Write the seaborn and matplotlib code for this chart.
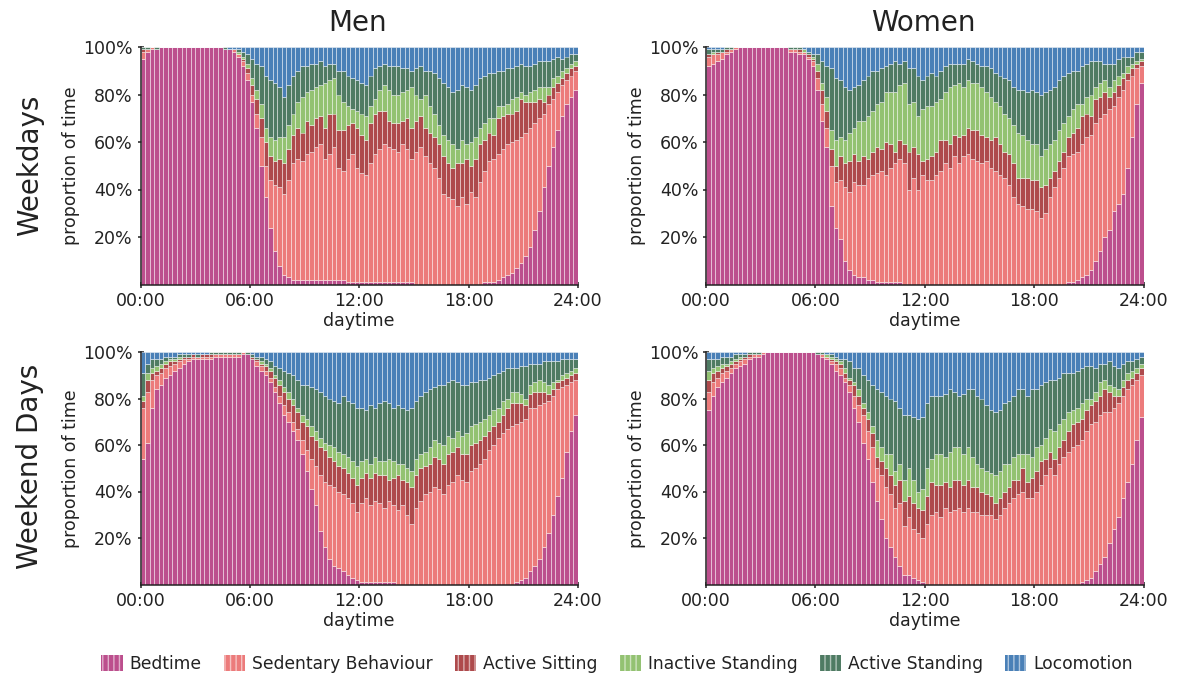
import numpy as np
import pandas as pd
import matplotlib
matplotlib.use("Agg")
import matplotlib.pyplot as plt
from matplotlib.patches import Patch
import seaborn as sns

# Behaviour classes, bottom of the stack first
behaviours = ["Bedtime", "Sedentary Behaviour", "Active Sitting",
              "Inactive Standing", "Active Standing", "Locomotion"]
colours = ["#bc4f8d", "#ec7b7b", "#ae4a4c", "#93c272", "#4f7b63", "#4a80b7"]

x_ticks = [0, 6, 12, 18, 24]
x_tick_labels = ["00:00", "06:00", "12:00", "18:00", "24:00"]
y_ticks = [0.2, 0.4, 0.6, 0.8, 1.0]
y_tick_labels = ["20%", "40%", "60%", "80%", "100%"]

# Share of time (%) spent in each behaviour, one value per 15-minute slot

# Men, weekdays
men_wd_bed = [95, 98, 99, 99, 100, 100, 100, 100, 100, 100, 100, 100,
              100, 100, 100, 100, 100, 100, 99, 99, 98, 96, 92, 86,
              77, 66, 50, 37, 24, 14, 8, 4, 3, 2, 2, 2,
              2, 2, 2, 2, 2, 2, 2, 2, 2, 1, 1, 1,
              1, 1, 1, 1, 1, 1, 1, 1, 1, 1, 1, 1,
              0, 0, 0, 0, 0, 0, 0, 0, 0, 0, 0, 0,
              0, 0, 0, 1, 1, 1, 2, 3, 4, 5, 7, 9,
              12, 16, 23, 31, 41, 50, 58, 65, 71, 76, 79, 82]
men_wd_sed = [3, 1, 1, 0, 0, 0, 0, 0, 0, 0, 0, 0,
              0, 0, 0, 0, 0, 0, 0, 0, 1, 1, 2, 3,
              3, 6, 12, 13, 20, 28, 33, 34, 41, 49, 51, 50,
              53, 54, 56, 57, 51, 53, 56, 47, 46, 52, 54, 48,
              46, 45, 50, 54, 56, 58, 57, 56, 55, 58, 56, 52,
              56, 58, 54, 51, 49, 45, 38, 37, 36, 33, 37, 34,
              39, 37, 43, 47, 51, 52, 53, 54, 55, 55, 54, 53,
              52, 50, 45, 39, 31, 26, 20, 16, 13, 10, 9, 8]
men_wd_asit = [1, 0, 0, 0, 0, 0, 0, 0, 0, 0, 0, 0,
               0, 0, 0, 0, 0, 0, 0, 0, 0, 0, 1, 2,
               4, 6, 8, 10, 10, 10, 12, 13, 13, 12, 13, 12,
               14, 11, 12, 12, 13, 17, 14, 16, 17, 14, 13, 17,
               16, 15, 17, 17, 16, 14, 11, 11, 12, 10, 13, 13,
               13, 13, 12, 13, 13, 14, 16, 14, 13, 18, 14, 19,
               11, 16, 16, 13, 12, 10, 15, 14, 13, 12, 12, 16,
               13, 11, 9, 8, 5, 4, 5, 4, 3, 3, 3, 2]
men_wd_istd = [0, 0, 0, 0, 0, 0, 0, 0, 0, 0, 0, 0,
               0, 0, 0, 0, 0, 0, 0, 0, 0, 1, 1, 2,
               3, 4, 6, 6, 8, 9, 9, 11, 10, 9, 11, 15,
               12, 15, 13, 13, 19, 14, 15, 15, 12, 8, 6, 7,
               9, 10, 7, 6, 9, 11, 13, 12, 12, 12, 12, 17,
               11, 7, 14, 11, 10, 8, 9, 10, 10, 6, 10, 6,
               10, 9, 7, 7, 6, 7, 5, 4, 4, 6, 6, 3,
               3, 4, 5, 5, 6, 3, 4, 3, 3, 2, 2, 2]
men_wd_astd = [1, 1, 0, 1, 0, 0, 0, 0, 0, 0, 0, 0,
               0, 0, 0, 0, 0, 0, 1, 0, 0, 1, 2, 4,
               8, 11, 16, 22, 24, 24, 21, 17, 17, 16, 13, 13,
               11, 11, 10, 10, 7, 7, 6, 10, 13, 13, 13, 13,
               13, 13, 13, 13, 10, 9, 10, 12, 12, 10, 9, 7,
               11, 14, 10, 15, 17, 20, 22, 22, 22, 25, 23, 24,
               22, 22, 21, 20, 19, 19, 15, 15, 15, 13, 13, 12,
               12, 11, 11, 11, 11, 11, 8, 8, 5, 5, 4, 3]
men_wd_loco = [0, 0, 0, 0, 0, 0, 0, 0, 0, 0, 0, 0,
               0, 0, 0, 0, 0, 0, 0, 1, 1, 1, 2, 3,
               5, 7, 8, 12, 14, 15, 17, 21, 16, 12, 10, 8,
               8, 7, 7, 6, 8, 7, 7, 10, 10, 12, 13, 14,
               15, 16, 12, 9, 8, 7, 8, 8, 8, 9, 9, 10,
               9, 8, 10, 10, 11, 13, 15, 17, 19, 18, 16, 17,
               18, 16, 13, 12, 11, 11, 10, 10, 9, 9, 8, 7,
               8, 8, 7, 6, 6, 6, 5, 4, 5, 4, 3, 3]

# Women, weekdays
women_wd_bed = [92, 93, 94, 95, 97, 98, 99, 100, 100, 100, 100, 100,
                100, 100, 100, 100, 100, 100, 98, 98, 97, 97, 95, 92,
                82, 69, 58, 33, 24, 19, 10, 6, 4, 3, 3, 2,
                2, 1, 1, 1, 1, 1, 1, 0, 0, 0, 0, 0,
                0, 0, 0, 0, 0, 0, 0, 0, 0, 0, 0, 0,
                0, 0, 0, 0, 0, 0, 0, 0, 0, 0, 0, 0,
                0, 0, 0, 0, 0, 0, 0, 1, 1, 2, 3, 4,
                6, 10, 14, 20, 23, 31, 34, 38, 49, 62, 76, 85]
women_wd_sed = [4, 4, 3, 3, 1, 1, 1, 0, 0, 0, 0, 0,
                0, 0, 0, 0, 0, 0, 1, 1, 1, 1, 1, 2,
                5, 7, 8, 17, 19, 25, 31, 33, 39, 39, 39, 43,
                44, 46, 47, 45, 48, 50, 52, 51, 40, 45, 40, 46,
                44, 44, 46, 48, 51, 49, 54, 51, 54, 55, 53, 52,
                51, 52, 49, 48, 46, 45, 42, 37, 34, 33, 32, 32,
                31, 28, 30, 37, 41, 45, 49, 53, 54, 54, 56, 58,
                57, 58, 56, 52, 51, 44, 45, 44, 37, 26, 15, 7]
women_wd_asit = [1, 0, 1, 0, 1, 0, 0, 0, 0, 0, 0, 0,
                 0, 0, 0, 0, 0, 0, 0, 0, 1, 0, 1, 1,
                 3, 6, 7, 7, 7, 10, 10, 13, 12, 10, 12, 8,
                 10, 11, 9, 14, 10, 5, 8, 8, 16, 13, 15, 6,
                 9, 10, 10, 13, 10, 10, 9, 11, 9, 11, 12, 13,
                 12, 10, 12, 14, 13, 11, 13, 14, 11, 12, 13, 12,
                 13, 13, 12, 8, 7, 7, 7, 8, 9, 10, 12, 10,
                 8, 10, 9, 9, 5, 6, 5, 5, 3, 3, 2, 2]
women_wd_istd = [0, 1, 0, 0, 0, 0, 0, 0, 0, 0, 0, 0,
                 0, 0, 0, 0, 0, 0, 0, 0, 0, 1, 0, 1,
                 3, 3, 6, 8, 11, 8, 10, 12, 11, 17, 15, 18,
                 17, 18, 20, 21, 22, 25, 23, 26, 20, 19, 16, 22,
                 22, 21, 21, 17, 20, 24, 21, 23, 20, 20, 20, 20,
                 20, 19, 18, 15, 16, 16, 15, 16, 19, 18, 16, 15,
                 15, 13, 15, 14, 13, 13, 12, 9, 10, 10, 5, 7,
                 9, 5, 6, 5, 4, 5, 4, 2, 3, 2, 1, 1]
women_wd_astd = [2, 1, 1, 1, 1, 1, 0, 0, 0, 0, 0, 0,
                 0, 0, 0, 0, 0, 0, 1, 1, 1, 0, 1, 1,
                 4, 9, 13, 26, 26, 24, 22, 18, 17, 15, 17, 17,
                 17, 14, 14, 11, 12, 13, 9, 9, 15, 14, 17, 12,
                 13, 14, 11, 12, 11, 10, 9, 8, 10, 9, 9, 8,
                 9, 11, 12, 12, 13, 15, 16, 16, 18, 19, 20, 23,
                 22, 26, 24, 23, 22, 21, 20, 18, 16, 14, 16, 14,
                 14, 11, 9, 7, 10, 7, 7, 7, 4, 3, 4, 3]
women_wd_loco = [1, 1, 1, 1, 0, 0, 0, 0, 0, 0, 0, 0,
                 0, 0, 0, 0, 0, 0, 0, 0, 0, 1, 2, 3,
                 3, 6, 8, 9, 13, 14, 17, 18, 17, 16, 14, 12,
                 10, 10, 9, 8, 7, 6, 7, 6, 9, 9, 12, 14,
                 12, 11, 12, 10, 8, 7, 7, 7, 7, 5, 6, 7,
                 8, 8, 9, 11, 12, 13, 14, 17, 18, 18, 19, 18,
                 19, 20, 19, 18, 17, 14, 12, 11, 10, 10, 8, 7,
                 6, 6, 6, 7, 7, 7, 5, 4, 4, 4, 2, 2]

# Men, weekend days
men_we_bed = [54, 61, 76, 84, 86, 89, 90, 92, 93, 95, 96, 97,
              97, 97, 97, 97, 98, 98, 98, 98, 98, 98, 99, 99,
              97, 94, 92, 90, 87, 83, 78, 73, 70, 66, 62, 56,
              49, 41, 34, 23, 16, 11, 8, 7, 6, 4, 3, 2,
              1, 1, 1, 1, 1, 1, 1, 1, 0, 0, 0, 0,
              0, 0, 0, 0, 0, 0, 0, 0, 0, 0, 0, 0,
              0, 0, 0, 0, 0, 0, 0, 0, 0, 0, 1, 2,
              3, 6, 8, 11, 16, 22, 30, 38, 46, 57, 66, 73]
men_we_sed = [22, 22, 12, 6, 5, 4, 4, 3, 3, 2, 1, 1,
              1, 1, 1, 1, 1, 1, 1, 1, 1, 1, 1, 0,
              0, 2, 2, 2, 2, 2, 3, 4, 4, 4, 5, 6,
              9, 13, 17, 24, 28, 32, 34, 33, 33, 33, 32, 29,
              34, 36, 33, 35, 34, 32, 35, 33, 32, 34, 30, 26,
              33, 36, 39, 40, 42, 41, 39, 43, 44, 47, 45, 44,
              49, 50, 52, 54, 58, 60, 63, 65, 67, 68, 68, 68,
              68, 70, 68, 66, 62, 57, 51, 46, 39, 29, 21, 15]
men_we_asit = [3, 5, 3, 2, 2, 2, 2, 1, 1, 1, 1, 1,
               0, 1, 1, 1, 0, 0, 0, 0, 0, 0, 0, 0,
               1, 1, 1, 2, 3, 4, 5, 6, 6, 7, 7, 8,
               10, 10, 11, 12, 14, 12, 11, 11, 11, 11, 11, 12,
               11, 11, 12, 12, 12, 14, 9, 12, 15, 11, 14, 16,
               14, 14, 12, 12, 13, 13, 13, 13, 13, 12, 11, 12,
               11, 11, 10, 10, 8, 8, 7, 8, 9, 10, 9, 8,
               6, 6, 7, 6, 5, 3, 3, 3, 3, 3, 3, 3]
men_we_istd = [2, 3, 2, 2, 2, 1, 1, 1, 1, 0, 0, 0,
               0, 0, 0, 0, 0, 0, 0, 0, 0, 0, 0, 0,
               0, 0, 1, 1, 1, 1, 2, 2, 3, 3, 2, 3,
               3, 4, 4, 4, 3, 5, 6, 6, 6, 7, 7, 8,
               7, 6, 6, 7, 6, 6, 9, 7, 5, 7, 6, 7,
               7, 6, 6, 7, 7, 7, 8, 8, 6, 7, 8, 9,
               8, 8, 8, 7, 7, 7, 6, 6, 4, 5, 5, 4,
               3, 4, 4, 5, 4, 4, 3, 1, 2, 2, 2, 2]
men_we_astd = [10, 4, 4, 3, 2, 2, 1, 1, 1, 1, 1, 0,
               1, 0, 0, 1, 1, 1, 1, 1, 1, 1, 0, 1,
               1, 1, 2, 2, 3, 4, 5, 7, 8, 10, 12, 13,
               15, 17, 18, 20, 20, 20, 20, 21, 25, 24, 25, 25,
               23, 21, 25, 21, 25, 26, 24, 23, 25, 24, 25, 27,
               25, 25, 26, 25, 23, 25, 26, 23, 25, 21, 22, 21,
               19, 18, 18, 17, 16, 15, 15, 13, 13, 10, 10, 12,
               14, 9, 8, 7, 9, 10, 9, 8, 7, 6, 5, 4]
men_we_loco = [9, 5, 3, 3, 3, 2, 2, 2, 1, 1, 1, 1,
               1, 1, 1, 0, 0, 0, 0, 0, 0, 0, 0, 0,
               1, 2, 2, 3, 4, 6, 7, 8, 9, 10, 12, 14,
               14, 15, 16, 17, 19, 20, 21, 22, 19, 21, 22, 24,
               24, 25, 23, 24, 22, 21, 22, 24, 23, 24, 25, 24,
               21, 19, 17, 16, 15, 14, 14, 13, 12, 13, 14, 14,
               13, 13, 12, 12, 11, 10, 9, 8, 7, 7, 7, 6,
               6, 5, 5, 5, 4, 4, 4, 4, 3, 3, 3, 3]

# Women, weekend days
women_we_bed = [75, 81, 85, 87, 89, 91, 93, 94, 95, 97, 98, 98,
                99, 100, 100, 100, 100, 100, 100, 100, 100, 100, 100, 100,
                99, 98, 97, 95, 92, 90, 87, 83, 76, 70, 61, 54,
                44, 36, 28, 20, 16, 12, 8, 4, 4, 3, 2, 1,
                0, 0, 0, 0, 0, 0, 0, 0, 0, 0, 0, 0,
                0, 0, 0, 0, 0, 0, 0, 0, 0, 0, 0, 0,
                0, 0, 0, 0, 0, 0, 0, 0, 0, 0, 1, 2,
                3, 6, 9, 12, 18, 24, 29, 37, 44, 52, 62, 72]
women_we_sed = [8, 6, 4, 4, 3, 2, 2, 2, 2, 1, 1, 1,
                1, 0, 0, 0, 0, 0, 0, 0, 0, 0, 0, 0,
                0, 1, 1, 1, 3, 3, 2, 3, 5, 7, 12, 12,
                15, 14, 19, 22, 23, 21, 27, 21, 25, 21, 20, 19,
                26, 30, 31, 29, 33, 31, 32, 33, 31, 33, 31, 31,
                30, 30, 30, 28, 30, 33, 35, 37, 39, 40, 37, 37,
                40, 43, 47, 50, 47, 52, 55, 57, 59, 60, 61, 64,
                66, 64, 64, 62, 56, 52, 49, 44, 40, 34, 26, 18]
women_we_asit = [5, 4, 3, 2, 2, 2, 1, 1, 1, 1, 0, 0,
                 0, 0, 0, 0, 0, 0, 0, 0, 0, 0, 0, 0,
                 0, 0, 0, 1, 1, 2, 2, 2, 5, 4, 3, 5,
                 6, 5, 6, 8, 8, 10, 10, 11, 9, 11, 11, 12,
                 12, 14, 12, 14, 11, 11, 13, 12, 12, 12, 11, 11,
                 10, 9, 8, 7, 7, 7, 7, 8, 6, 10, 7, 9,
                 9, 10, 7, 7, 7, 7, 7, 9, 10, 10, 9, 9,
                 8, 9, 8, 10, 9, 5, 3, 4, 4, 3, 3, 3]
women_we_istd = [4, 2, 2, 2, 1, 1, 1, 1, 0, 0, 0, 0,
                 0, 0, 0, 0, 0, 0, 0, 0, 0, 0, 0, 0,
                 0, 0, 1, 1, 1, 1, 2, 1, 1, 3, 2, 3,
                 3, 7, 6, 6, 9, 6, 7, 9, 12, 10, 7, 9,
                 12, 10, 13, 13, 11, 15, 14, 14, 13, 14, 13, 10,
                 10, 10, 10, 12, 12, 12, 10, 10, 11, 6, 12, 9,
                 10, 7, 9, 10, 12, 10, 9, 8, 6, 6, 7, 5,
                 3, 4, 6, 4, 3, 4, 3, 3, 3, 3, 2, 2]
women_we_astd = [5, 4, 3, 3, 3, 2, 2, 1, 1, 1, 1, 1,
                 0, 0, 0, 0, 0, 0, 0, 0, 0, 0, 0, 0,
                 1, 1, 0, 1, 1, 1, 4, 7, 6, 9, 12, 14,
                 18, 22, 24, 25, 24, 30, 24, 28, 23, 27, 31, 31,
                 28, 27, 25, 25, 27, 27, 24, 22, 26, 25, 29, 29,
                 30, 28, 27, 27, 26, 26, 27, 26, 28, 28, 25, 29,
                 25, 26, 24, 21, 22, 20, 20, 17, 16, 16, 15, 14,
                 14, 10, 8, 7, 10, 9, 9, 7, 5, 4, 4, 3]
women_we_loco = [3, 3, 3, 2, 2, 2, 1, 1, 1, 0, 0, 0,
                 0, 0, 0, 0, 0, 0, 0, 0, 0, 0, 0, 0,
                 0, 0, 1, 1, 2, 3, 3, 4, 7, 7, 10, 12,
                 14, 16, 17, 19, 20, 21, 24, 27, 27, 28, 29, 28,
                 22, 19, 19, 19, 18, 16, 17, 19, 18, 16, 16, 19,
                 20, 23, 25, 26, 25, 22, 21, 19, 16, 16, 19, 16,
                 16, 14, 13, 12, 12, 11, 9, 9, 9, 8, 7, 6,
                 6, 7, 5, 5, 4, 6, 7, 5, 4, 4, 3, 2]

panels = [
    ("Men", "Weekdays", [men_wd_bed, men_wd_sed, men_wd_asit,
                         men_wd_istd, men_wd_astd, men_wd_loco]),
    ("Women", "Weekdays", [women_wd_bed, women_wd_sed, women_wd_asit,
                           women_wd_istd, women_wd_astd, women_wd_loco]),
    ("Men", "Weekend Days", [men_we_bed, men_we_sed, men_we_asit,
                             men_we_istd, men_we_astd, men_we_loco]),
    ("Women", "Weekend Days", [women_we_bed, women_we_sed, women_we_asit,
                               women_we_istd, women_we_astd, women_we_loco]),
]

SLOT_HOURS = 0.25


def to_long(series):
    rows = []
    for name, values in zip(behaviours, series):
        for slot, share in enumerate(values):
            rows.append((slot * SLOT_HOURS + SLOT_HOURS / 2, name, float(share)))
    return pd.DataFrame(rows, columns=["hour", "behaviour", "share"])


sns.set_style("ticks")
plt.rcParams["font.family"] = ["DejaVu Sans"]
plt.rcParams["text.color"] = "#222222"
plt.rcParams["axes.labelcolor"] = "#222222"
plt.rcParams["xtick.color"] = "#222222"
plt.rcParams["ytick.color"] = "#222222"
plt.rcParams["hatch.linewidth"] = 1.0

fig = plt.figure(figsize=(11.78, 6.77), dpi=100)

W, H = 1178, 677
boxes = [
    (140.5, 47.0, 437.5, 237.5),
    (706.0, 47.0, 437.5, 237.5),
    (140.5, 352.0, 437.5, 232.5),
    (706.0, 352.0, 437.5, 232.5),
]

palette = dict(zip(behaviours, colours))

for (sex, day, series), (px, py, pw, ph) in zip(panels, boxes):
    ax = fig.add_axes([px / W, 1 - (py + ph) / H, pw / W, ph / H])
    df = to_long(series)
    sns.histplot(data=df, x="hour", weights="share", hue="behaviour",
                 hue_order=behaviours[::-1], palette=palette,
                 multiple="fill", binwidth=SLOT_HOURS, binrange=(0, 24),
                 alpha=1, edgecolor=(1, 1, 1, 0.5), linewidth=0.6,
                 legend=False, ax=ax)
    ax.set_xlim(0, 24)
    ax.set_ylim(0, 1)
    ax.set_xticks(x_ticks)
    ax.set_xticklabels(x_tick_labels)
    ax.set_yticks(y_ticks)
    ax.set_yticklabels(y_tick_labels)
    ax.tick_params(axis="both", labelsize=12.5, direction="inout",
                   length=5, width=1.1, pad=3)
    ax.set_xlabel("daytime", fontsize=12.5, labelpad=1)
    ax.set_ylabel("proportion of time", fontsize=12.5, labelpad=2)
    sns.despine(ax=ax)
    for side in ("left", "bottom"):
        ax.spines[side].set_linewidth(1.1)
        ax.spines[side].set_color("#222222")

fig.text(358 / W, 1 - 23 / H, "Men", ha="center", va="center", fontsize=20)
fig.text(923 / W, 1 - 23 / H, "Women", ha="center", va="center", fontsize=20)
fig.text(30 / W, 1 - 165 / H, "Weekdays", rotation=90, ha="center",
         va="center", fontsize=20)
fig.text(30 / W, 1 - 466 / H, "Weekend Days", rotation=90, ha="center",
         va="center", fontsize=20)

handles = [Patch(facecolor=c, edgecolor=(1, 1, 1, 0.55), hatch="|||",
                 linewidth=0) for c in colours]
fig.legend(handles, behaviours, loc="center", bbox_to_anchor=(617 / W, 1 - 664 / H),
           ncol=6, frameon=False, fontsize=12.3, handlelength=1.25,
           handleheight=1.1, columnspacing=1.3, handletextpad=0.4)

fig.savefig("out.png", dpi=100)
